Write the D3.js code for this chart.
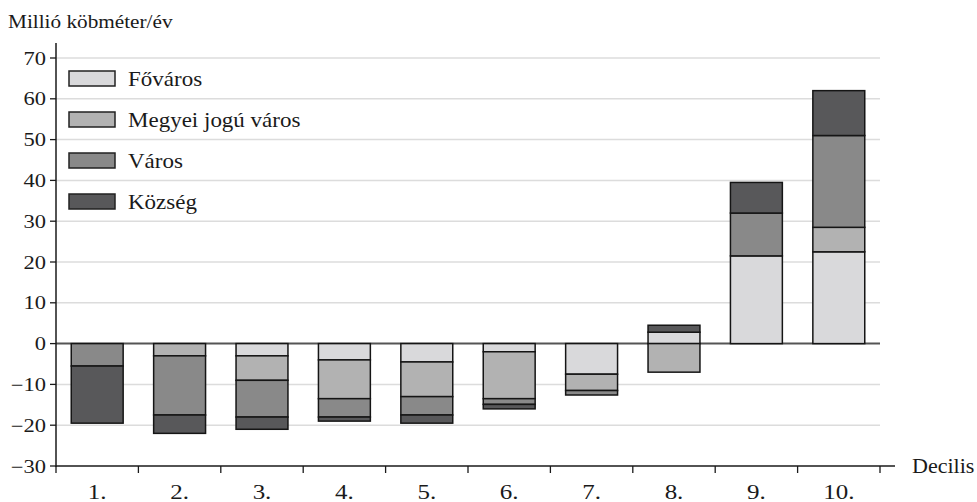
<!DOCTYPE html>
<html><head><meta charset="utf-8">
<script src="https://cdn.jsdelivr.net/npm/d3@7"></script>
<style>
body{margin:0;background:#fff;}
text{font-family:"Liberation Serif","DejaVu Serif",serif;fill:#1a1a1a;}
</style></head>
<body><svg id="c" width="977" height="502"></svg>
<script>
const categories = ["1.","2.","3.","4.","5.","6.","7.","8.","9.","10."];
const seriesNames = ["Főváros","Megyei jogú város","Város","Község"];
const fovaros = [0, 0, -3, -4, -4.5, -2, -7.5, 2.8, 21.5, 22.5];
const megyei  = [0, -3, -6, -9.5, -8.5, -11.5, -4, -7, 0, 6];
const varos   = [-5.5, -14.5, -9, -4.5, -4.5, -1.4, -1.1, 0, 10.5, 22.5];
const kozseg  = [-14, -4.5, -3, -1, -2, -1.1, 0, 1.7, 7.5, 11];
const yTicks = [-30,-20,-10,0,10,20,30,40,50,60,70];
const colors = ["#d9d9db","#b2b2b2","#898989","#58585a"];

const data = categories.map((c,i)=>({cat:c, "Főváros":fovaros[i], "Megyei jogú város":megyei[i], "Város":varos[i], "Község":kozseg[i]}));

const svg = d3.select("#c");
const x = d3.scaleBand().domain(categories).range([56,880]).paddingInner(0.37).paddingOuter(0.185);
const y = d3.scaleLinear().domain([-30,70]).range([466,58]);

// helper: horizontally stretched text
function stext(sel, tx, ty, size, sx, anchor){
  return sel.attr("transform",(d,i)=>`translate(${typeof tx==="function"?tx(d,i):tx},${typeof ty==="function"?ty(d,i):ty}) scale(${sx},1)`)
    .attr("font-size",size).attr("text-anchor",anchor||"start");
}

// gridlines
svg.append("g").selectAll("line").data(yTicks.filter(t=>t!==-30&&t!==0)).join("line")
  .attr("x1",56).attr("x2",880).attr("y1",d=>y(d)).attr("y2",d=>y(d))
  .attr("stroke","#dcdcdc").attr("stroke-width",1.5);

// zero line
svg.append("line").attr("x1",56).attr("x2",880).attr("y1",y(0)).attr("y2",y(0))
  .attr("stroke","#555").attr("stroke-width",2);

// bars
const stack = d3.stack().keys(seriesNames).offset(d3.stackOffsetDiverging);
const stacked = stack(data);
svg.append("g").selectAll("g").data(stacked).join("g")
  .attr("fill",(d,i)=>colors[i])
  .selectAll("rect").data(d=>d.filter(s=>s[1]-s[0]!==0)).join("rect")
  .attr("x",d=>x(d.data.cat)).attr("width",x.bandwidth())
  .attr("y",d=>y(Math.max(d[0],d[1]))).attr("height",d=>Math.abs(y(d[0])-y(d[1])))
  .attr("stroke","#151515").attr("stroke-width",1.5);

// y axis
svg.append("g").selectAll("line").data(yTicks).join("line")
  .attr("x1",50).attr("x2",56).attr("y1",d=>y(d)).attr("y2",d=>y(d))
  .attr("stroke","#1a1a1a").attr("stroke-width",1.3);
stext(svg.append("g").selectAll("text").data(yTicks).join("text")
  .text(d=> d<0 ? "\u2212"+Math.abs(d) : d), 46, d=>y(d)+6.5, 18, 1.25, "end");
svg.append("line").attr("x1",56).attr("x2",56).attr("y1",43).attr("y2",467).attr("stroke","#1a1a1a").attr("stroke-width",1.5);

// x axis
svg.append("line").attr("x1",56).attr("x2",895).attr("y1",466).attr("y2",466).attr("stroke","#1a1a1a").attr("stroke-width",1.5);
const bounds = d3.range(categories.length+1).map(i=>56 + i*(824/categories.length));
svg.append("g").selectAll("line").data(bounds).join("line")
  .attr("x1",d=>d).attr("x2",d=>d).attr("y1",466).attr("y2",473)
  .attr("stroke","#1a1a1a").attr("stroke-width",1.3);
stext(svg.append("g").selectAll("text").data(categories).join("text").text(d=>d),
  d=>x(d)+x.bandwidth()/2, 499, 20, 1.25, "middle");
stext(svg.append("text").text("Decilis"), 912, 473, 21, 1.05);

// title
stext(svg.append("text").text("Millió köbméter/év"), 8, 28, 19.5, 1.09);

// legend
const lg = svg.append("g").selectAll("g").data(seriesNames).join("g")
  .attr("transform",(d,i)=>`translate(69,${71+i*41})`);
lg.append("rect").attr("width",46).attr("height",15).attr("fill",(d,i)=>colors[i])
  .attr("stroke","#222").attr("stroke-width",1.5);
stext(lg.append("text").text(d=>d), 59, 15, 20, 1.15);
</script></body></html>
